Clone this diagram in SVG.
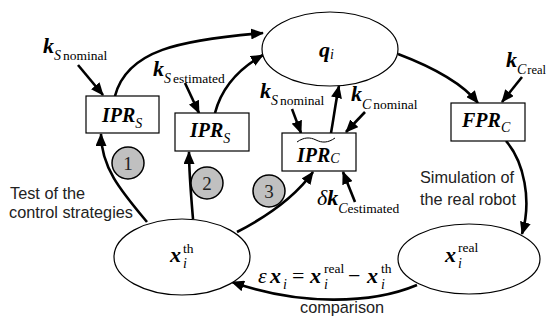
<svg xmlns="http://www.w3.org/2000/svg" width="546" height="327" viewBox="0 0 546 327">
<style>
.node{fill:#fff;stroke:#000;stroke-width:1.2}
.num{fill:#c0c0c0;stroke:#000;stroke-width:1.5}
.c{fill:none;stroke:#000;stroke-width:2.6}
.kb{font-weight:bold;font-style:italic;font-size:22px}
.bx{font-weight:bold;font-style:italic;font-size:20px}
.it{font-style:italic;font-size:14px}
.rm{font-size:13.5px}
.lab{font-size:16.3px;fill:#222}
.nt{font-size:19px;fill:#222;text-anchor:middle}
</style>
<defs>
<marker id="ah" markerUnits="userSpaceOnUse" markerWidth="13" markerHeight="11" refX="12" refY="5.5" orient="auto">
<path d="M0,0 L13,5.5 L0,11 Z" fill="#000"/>
</marker>
</defs>

<g id="connectors">
<path class="c" marker-end="url(#ah)" d="M147,222 C122,192 101,168 101,134"/>
<path class="c" marker-end="url(#ah)" d="M193,219 C191,195 189,172 189,152"/>
<path class="c" marker-end="url(#ah)" d="M237,232 C268,216 295,197 313,172"/>
<path class="c" marker-end="url(#ah)" d="M115,96 C127,50 180,40 263,33"/>
<path class="c" marker-end="url(#ah)" d="M215,113 C222,86 240,68 263,55"/>
<path class="c" marker-end="url(#ah)" d="M331,133 C334,116 336,100 339,86"/>
<path class="c" marker-end="url(#ah)" d="M398,54 C435,68 463,84 478,103"/>
<path class="c" marker-end="url(#ah)" d="M506,141 C524,162 532,200 522,234"/>
<path class="c" marker-end="url(#ah)" d="M417,285 C372,304 300,306 232,282"/>
<path class="c" marker-end="url(#ah)" d="M78,65 L103,95"/>
<path class="c" marker-end="url(#ah)" d="M185,83 L199,113"/>
<path class="c" marker-end="url(#ah)" d="M292,109 L301,133"/>
<path class="c" marker-end="url(#ah)" d="M365,112 L346,132"/>
<path class="c" marker-end="url(#ah)" d="M355,202 L343,172"/>
<path class="c" marker-end="url(#ah)" d="M522,77 L502,102"/>
</g>

<g font-family="Liberation Serif, serif" fill="#000">
<g id="q">
<ellipse class="node" cx="330" cy="49" rx="68" ry="37"/>
<text x="319" y="57"><tspan class="kb">q</tspan><tspan class="it" dy="2">i</tspan></text>
</g>

<g id="xth">
<ellipse class="node" cx="182" cy="257" rx="68" ry="38"/>
<text class="kb" x="170" y="262">x</text>
<text class="rm" x="183" y="253">th</text>
<text class="it" x="183" y="268">i</text>
</g>

<g id="xreal">
<ellipse class="node" cx="469" cy="259" rx="71" ry="35"/>
<text class="kb" x="445" y="262">x</text>
<text class="rm" x="458" y="252">real</text>
<text class="it" x="458" y="268">i</text>
</g>

<g id="ipr1">
<rect class="node" x="86" y="96" width="73" height="37"/>
<text x="102" y="122"><tspan class="bx">IPR</tspan><tspan class="it" dy="6">S</tspan></text>
</g>

<g id="ipr2">
<rect class="node" x="175" y="113" width="74" height="38"/>
<text x="190" y="137"><tspan class="bx">IPR</tspan><tspan class="it" dy="6">S</tspan></text>
</g>

<g id="iprc">
<rect class="node" x="282" y="133" width="74" height="38"/>
<path d="M297,142 C304,137 310,137 316,140 C322,143 328,143 335,138" fill="none" stroke="#000" stroke-width="1"/>
<text x="297" y="162"><tspan class="bx">IPR</tspan><tspan class="it" dy="1">C</tspan></text>
</g>

<g id="fprc">
<rect class="node" x="451" y="103" width="74" height="38"/>
<text x="462" y="127"><tspan class="bx">FPR</tspan><tspan class="it" dy="5">C</tspan></text>
</g>

<g id="n1"><circle class="num" cx="128" cy="163" r="16"/><text class="nt" x="128" y="169.5">1</text></g>
<g id="n2"><circle class="num" cx="207" cy="183" r="16"/><text class="nt" x="207" y="189.5">2</text></g>
<g id="n3"><circle class="num" cx="269" cy="191" r="16"/><text class="nt" x="269" y="197.5">3</text></g>

<g id="mathlabels">
<text x="43" y="53"><tspan class="kb">k</tspan><tspan class="it" dy="7">S</tspan><tspan class="rm" dx="2">nominal</tspan></text>
<text x="153" y="76"><tspan class="kb">k</tspan><tspan class="it" dy="7">S</tspan><tspan class="rm" dx="2">estimated</tspan></text>
<text x="260" y="98"><tspan class="kb">k</tspan><tspan class="it" dy="7">S</tspan><tspan class="rm" dx="2">nominal</tspan></text>
<text x="351" y="101"><tspan class="kb">k</tspan><tspan class="it" dy="8">C</tspan><tspan class="rm" dx="2">nominal</tspan></text>
<text x="506" y="67"><tspan class="kb">k</tspan><tspan class="it" dy="7">C</tspan><tspan class="rm" dx="1" style="font-size:12.5px">real</tspan></text>
<text x="317" y="205"><tspan style="font-style:italic;font-size:22px">δ</tspan><tspan class="kb">k</tspan><tspan class="it" dy="8">C</tspan><tspan class="rm">estimated</tspan></text>

<text x="258" y="283" style="font-style:italic;font-size:22px">ε</text>
<text class="kb" x="270" y="283">x</text>
<text class="it" x="283" y="289">i</text>
<text x="292" y="283" style="font-size:22px">=</text>
<text class="kb" x="310" y="283">x</text>
<text class="rm" x="324" y="273">real</text>
<text class="it" x="324" y="289">i</text>
<text x="348" y="283" style="font-size:22px">−</text>
<text class="kb" x="367" y="283">x</text>
<text class="rm" x="381" y="273">th</text>
<text class="it" x="381" y="289">i</text>
</g>
</g>

<g id="labels" font-family="Liberation Sans, Arial, sans-serif">
<text class="lab" x="10" y="199">Test of the</text>
<text class="lab" x="9" y="218">control strategies</text>
<text class="lab" x="420" y="183">Simulation of</text>
<text class="lab" x="420" y="205">the real robot</text>
<text class="lab" x="300" y="313">comparison</text>
</g>
</svg>
